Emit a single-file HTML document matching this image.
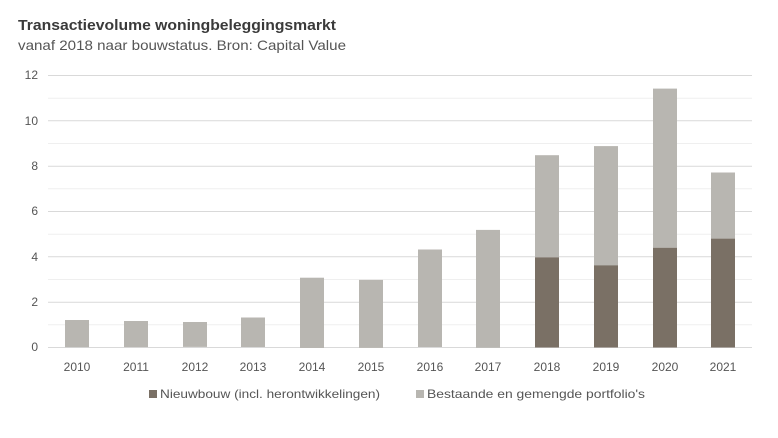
<!DOCTYPE html>
<html><head><style>
body{margin:0;background:#fff;font-family:"Liberation Sans",sans-serif;}
</style></head><body>
<svg width="778" height="433" xmlns="http://www.w3.org/2000/svg" font-family="Liberation Sans, sans-serif">
<text x="18" y="30" font-size="15" font-weight="bold" fill="#3a3a3a" textLength="318" lengthAdjust="spacingAndGlyphs">Transactievolume woningbeleggingsmarkt</text>
<text x="18" y="50" font-size="14" fill="#555" textLength="328" lengthAdjust="spacingAndGlyphs">vanaf 2018 naar bouwstatus. Bron: Capital Value</text>
<g stroke="#efefef" stroke-width="1">
<line x1="48" x2="752" y1="98.2" y2="98.2"/><line x1="48" x2="752" y1="143.5" y2="143.5"/>
<line x1="48" x2="752" y1="188.8" y2="188.8"/><line x1="48" x2="752" y1="234.2" y2="234.2"/>
<line x1="48" x2="752" y1="279.5" y2="279.5"/><line x1="48" x2="752" y1="324.8" y2="324.8"/>
</g>
<g stroke="#d9d9d9" stroke-width="1">
<line x1="48" x2="752" y1="75.5" y2="75.5"/><line x1="48" x2="752" y1="120.8" y2="120.8"/>
<line x1="48" x2="752" y1="166.2" y2="166.2"/><line x1="48" x2="752" y1="211.5" y2="211.5"/>
<line x1="48" x2="752" y1="256.8" y2="256.8"/><line x1="48" x2="752" y1="302.2" y2="302.2"/>
<line x1="48" x2="752" y1="347.5" y2="347.5"/>
</g>
<g font-size="12" fill="#555" text-anchor="end">
<text x="38" y="79">12</text><text x="38" y="125">10</text><text x="38" y="170">8</text>
<text x="38" y="215">6</text><text x="38" y="261">4</text><text x="38" y="306">2</text><text x="38" y="351">0</text>
</g>
<g fill="#b8b6b1">
<rect x="65" y="320" width="24" height="27.2"/>
<rect x="124" y="321" width="24" height="26.1"/>
<rect x="183" y="322" width="24" height="24.9"/>
<rect x="241" y="317.5" width="24" height="29.5"/>
<rect x="300" y="277.7" width="24" height="70.3"/>
<rect x="359" y="279.9" width="24" height="68"/>
<rect x="418" y="249.5" width="24" height="97.5"/>
<rect x="476" y="229.9" width="24" height="117.9"/>
<rect x="535" y="155.2" width="24" height="102"/>
<rect x="594" y="146.1" width="24" height="120"/>
<rect x="653" y="88.6" width="24" height="159"/>
<rect x="711" y="172.5" width="24" height="66"/>
</g>
<g fill="#7a7065">
<rect x="535" y="257.3" width="24" height="90.2"/>
<rect x="594" y="265.4" width="24" height="82.1"/>
<rect x="653" y="247.7" width="24" height="99.8"/>
<rect x="711" y="238.6" width="24" height="108.9"/>
</g>
<g font-size="12" fill="#555" text-anchor="middle">
<text x="77" y="371">2010</text><text x="136" y="371">2011</text><text x="195" y="371">2012</text>
<text x="253" y="371">2013</text><text x="312" y="371">2014</text><text x="371" y="371">2015</text>
<text x="430" y="371">2016</text><text x="488" y="371">2017</text><text x="547" y="371">2018</text>
<text x="606" y="371">2019</text><text x="665" y="371">2020</text><text x="723" y="371">2021</text>
</g>
<rect x="149" y="390" width="8" height="8" fill="#7a7065"/>
<text x="160" y="398" font-size="12" fill="#555" textLength="220" lengthAdjust="spacingAndGlyphs">Nieuwbouw (incl. herontwikkelingen)</text>
<rect x="416" y="390" width="8" height="8" fill="#b8b6b1"/>
<text x="427" y="398" font-size="12" fill="#555" textLength="218" lengthAdjust="spacingAndGlyphs">Bestaande en gemengde portfolio's</text>
</svg>
</body></html>
